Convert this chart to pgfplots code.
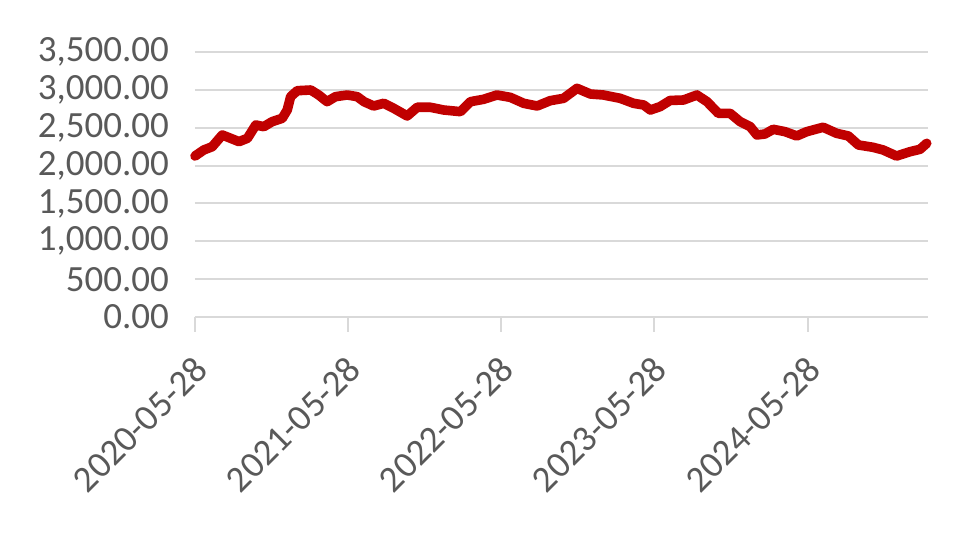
\documentclass[border=0pt]{standalone}
\usepackage{fontspec}
\setmainfont{Carlito}
\usepackage{pgfplots}
\pgfplotsset{compat=1.18}
\definecolor{linered}{RGB}{192,0,0}
\definecolor{gridgray}{RGB}{217,217,217}
\definecolor{txtgray}{RGB}{89,89,89}
\begin{document}
\begin{tikzpicture}
\begin{axis}[
  scale only axis,
  width=366.5pt, height=132.5pt,
  xmin=0, xmax=1748,
  ymin=0, ymax=3500,
  ytick={0,500,...,3500},
  xtick={0,365,730,1095,1461},
  xticklabels={2020-05-28,2021-05-28,2022-05-28,2023-05-28,2024-05-28},
  axis line style={draw=none},
  axis x line*=bottom,
  axis y line*=left,
  ymajorgrids,
  grid style={gridgray, line width=1pt},
  major y tick style={draw=none},
  major x tick style={gridgray, line width=1pt},
  tick align=outside,
  major tick length=7.5pt,
  tick label style={font=\fontsize{18.5}{20}\selectfont, text=txtgray},
  /pgf/number format/assume math mode=true,
  yticklabel style={/pgf/number format/fixed, /pgf/number format/fixed zerofill, /pgf/number format/precision=2, /pgf/number format/1000 sep={,}, xshift=-2pt},
  scaled y ticks=false,
  xticklabel style={rotate=45, anchor=east, xshift=-5.4pt, yshift=-13.2pt},
  clip=false,
]
\draw[gridgray, line width=1pt] (axis cs:0,0) -- (axis cs:1748,0);
\addplot[linered, line width=4.8pt, line join=round, line cap=round] coordinates {
(0,2126) (21,2206) (41,2249) (65,2404) (85,2360) (105,2316) (125,2360)
(145,2536) (164,2514) (184,2580) (208,2624) (220,2734) (228,2910) (244,2989)
(276,2998) (295,2932) (315,2844) (335,2910) (363,2932) (387,2910) (403,2844)
(426,2787) (450,2822) (474,2756) (506,2655) (530,2770) (561,2770) (593,2734)
(633,2712) (657,2844) (688,2875) (720,2932) (752,2901) (784,2822) (816,2787)
(847,2857) (879,2888) (911,3020) (943,2945) (974,2932) (1014,2888) (1046,2822)
(1070,2800) (1086,2734) (1109,2778) (1133,2860) (1165,2866) (1197,2932)
(1221,2844) (1248,2690) (1276,2690) (1300,2580) (1324,2514) (1340,2404)
(1359,2417) (1379,2479) (1407,2448) (1435,2391) (1459,2448) (1498,2506)
(1530,2426) (1558,2391) (1582,2272) (1617,2241) (1641,2206) (1673,2126)
(1705,2183) (1729,2215) (1745,2294)
};
\end{axis}
\pgfresetboundingbox
\path (current axis.south west) ++(-97.5pt,-111pt) rectangle ++(490pt,269.5pt);
\end{tikzpicture}
\end{document}
